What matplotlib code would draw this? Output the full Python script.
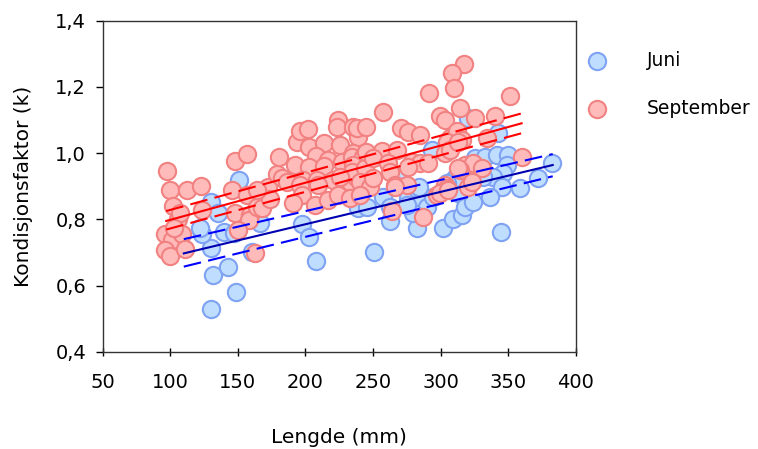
import matplotlib
matplotlib.use("Agg")
import matplotlib.pyplot as plt
from matplotlib.ticker import FuncFormatter

plt.rcParams['font.family'] = ['DejaVu Sans']

# Juni (lengde mm, kondisjonsfaktor)
juni_x = [129.9, 148.7, 131.8, 142.5, 129.9, 123.2, 139.8, 147.0, 160.3, 151.0,
          129.9, 135.5, 166.4, 197.3, 202.9, 207.8, 239.0, 250.8, 240.4, 245.3,
          257.7, 262.6, 270.0, 276.0, 283.5, 284.8, 289.7, 262.6, 282.3, 301.6,
          309.5, 313.2, 279.8, 274.9, 294.6, 315.6, 318.2, 324.2, 344.5, 325.5,
          332.9, 341.5, 350.1, 348.9, 346.4, 339.0, 331.6, 319.3, 310.7, 304.5,
          382.3, 372.3, 358.8, 345.2, 336.6, 320.6, 342.7, 294.0, 284.4, 122.0]
juni_y = [0.530, 0.580, 0.632, 0.657, 0.712, 0.757, 0.763, 0.760, 0.702, 0.918,
          0.853, 0.818, 0.788, 0.786, 0.747, 0.675, 0.833, 0.702, 0.919, 0.838,
          0.868, 0.838, 0.929, 0.863, 0.889, 0.853, 0.838, 0.795, 0.773, 0.773,
          0.800, 0.879, 0.818, 0.843, 0.868, 0.813, 0.838, 0.853, 0.761, 0.984,
          0.989, 0.994, 0.994, 0.964, 0.939, 0.929, 0.929, 0.929, 0.924, 0.909,
          0.969, 0.924, 0.894, 0.899, 0.868, 1.105, 1.060, 1.009, 0.899, 0.773]

# September
sep_x = [97.8, 99.8, 102.0, 106.0, 96.0, 101.0, 109.0, 96.0, 100.0, 111.0,
         112.6, 122.7, 107.0, 103.0, 123.5,
         146.0, 148.0, 156.5, 157.0, 148.0, 159.0, 158.0, 150.0, 162.7, 164.0,
         168.0, 172.5, 174.0, 164.0, 178.8, 180.7, 182.5, 186.2,
         193.5, 196.0, 202.0, 202.9, 213.8, 224.4, 223.6, 225.6, 207.8, 217.0,
         226.9, 192.3, 202.9, 213.8, 198.4, 208.4, 220.6, 196.0, 209.5, 233.0,
         237.4, 197.3, 191.0, 207.1, 216.9, 224.4, 233.0, 235.0, 239.0, 238.0,
         244.8, 235.0, 234.2, 242.8, 235.4, 234.2, 244.1, 240.4, 247.8, 240.4,
         225.6,
         257.7, 270.5, 276.0, 284.8, 244.8, 256.5, 267.5, 250.2, 261.3, 278.6,
         284.8, 291.0, 276.0, 262.6, 250.2, 266.3, 274.9, 263.8, 287.2, 266.3,
         297.2, 291.7, 299.6,
         317.4, 308.2, 309.7, 351.4, 314.4, 303.3, 325.7, 340.0, 307.0, 312.0,
         304.5, 315.6, 303.3, 307.0, 313.2, 334.7, 360.0, 318.0, 324.2, 330.4,
         314.4, 320.5, 323.0, 303.3, 304.5, 299.6, 305.8, 313.2]
sep_y = [0.945, 0.890, 0.840, 0.800, 0.755, 0.737, 0.755, 0.707, 0.690, 0.710,
         0.890, 0.900, 0.820, 0.775, 0.828,
         0.889, 0.977, 0.997, 0.873, 0.818, 0.813, 0.798, 0.768, 0.697, 0.838,
         0.835, 0.899, 0.860, 0.889, 0.937, 0.987, 0.924, 0.912,
         1.033, 1.068, 1.072, 1.019, 1.032, 1.100, 1.080, 1.024, 0.990, 0.979,
         0.974, 0.964, 0.959, 0.960, 0.919, 0.919, 0.919, 0.904, 0.904, 0.914,
         0.929, 0.873, 0.848, 0.843, 0.858, 0.873, 0.863, 1.080, 1.050, 1.075,
         1.080, 0.999, 0.989, 0.989, 0.964, 0.944, 0.954, 0.914, 0.899, 0.873,
         0.929,
         1.123, 1.075, 1.065, 1.055, 1.004, 1.006, 1.009, 0.984, 0.969, 0.974,
         0.969, 0.969, 0.959, 0.944, 0.924, 0.904, 0.904, 0.826, 0.807, 0.899,
         0.873, 1.181, 1.112,
         1.269, 1.241, 1.198, 1.174, 1.137, 1.100, 1.105, 1.112, 1.045, 1.068,
         1.033, 1.040, 0.999, 1.009, 1.034, 1.046, 0.987, 0.964, 0.969, 0.954,
         0.949, 0.899, 0.914, 0.904, 0.894, 0.879, 0.889, 0.954]

# regresjonslinjer med konfidensintervall (lest av figuren)
juni_fit_x = [110, 383]
juni_fit = [0.697, 0.964]
juni_lo = [0.657, 0.930]
juni_hi = [0.740, 0.997]

sep_fit_x = [97, 360]
sep_fit = [0.795, 1.090]
sep_lo = [0.769, 1.060]
sep_hi = [0.825, 1.120]

fig = plt.figure(figsize=(7.58, 4.49), dpi=100)
ax = fig.add_axes([0.1355, 0.2167, 0.624, 0.7372])

ax.scatter(juni_x, juni_y, s=155, facecolor='#BFDDFF', edgecolor='#7FA2F2',
           linewidths=1.5, label='Juni', zorder=2)
ax.scatter(sep_x, sep_y, s=155, facecolor='#FFBABA', edgecolor='#F28282',
           linewidths=1.5, label='September', zorder=3)

dash = (0, (8.5, 3.5))
ax.plot(juni_fit_x, juni_fit, color='#0000B0', lw=1.5, zorder=4)
ax.plot(juni_fit_x, juni_lo, color='#0000FF', lw=1.5, ls=dash, zorder=4)
ax.plot(juni_fit_x, juni_hi, color='#0000FF', lw=1.5, ls=dash, zorder=4)
ax.plot(sep_fit_x, sep_fit, color='#FF0000', lw=1.5, zorder=4)
ax.plot(sep_fit_x, sep_lo, color='#FF0000', lw=1.5, ls=dash, zorder=4)
ax.plot(sep_fit_x, sep_hi, color='#FF0000', lw=1.5, ls=dash, zorder=4)

ax.set_xlim(50, 400)
ax.set_ylim(0.4, 1.4)
ax.set_xticks(range(50, 401, 50))
ax.set_yticks([0.4, 0.6, 0.8, 1.0, 1.2, 1.4])
ax.yaxis.set_major_formatter(FuncFormatter(lambda v, p: f"{v:.1f}".replace('.', ',')))
ax.tick_params(axis='y', direction='out', length=5, width=1, labelsize=14, pad=7)
ax.tick_params(axis='x', direction='inout', length=6, width=1, labelsize=14, pad=12)

for s in ax.spines.values():
    s.set_color('#333333')
    s.set_linewidth(1)

ax.set_xlabel('Lengde (mm)', fontsize=14.5, labelpad=26)
ax.set_ylabel('Kondisjonsfaktor (k)', fontsize=14.5, labelpad=16)

ax.legend(loc='upper left', bbox_to_anchor=(0.97, 0.959), frameon=False,
          fontsize=13.5, labelspacing=1.55, handletextpad=1.65, markerscale=1.0)

fig.savefig('out.png', dpi=100)
